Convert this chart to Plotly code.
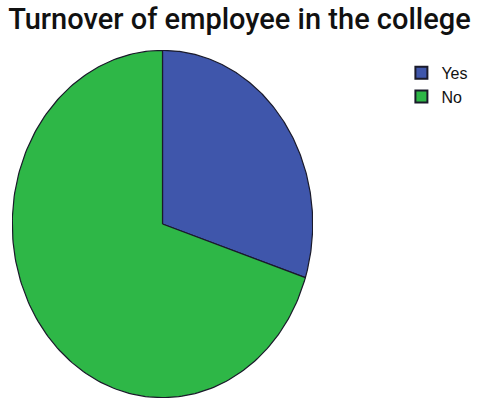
import numpy as np
import plotly.graph_objects as go

labels = ["Yes", "No"]
values = [30, 70]
colors = ["#3f56ab", "#2eb747"]
title_text = "Turnover of employee in the college"

fig = go.Figure()

total = float(sum(values))
start = 0.0
for lab, val, col in zip(labels, values, colors):
    a0 = start / total * 2 * np.pi
    a1 = (start + val) / total * 2 * np.pi
    th = np.linspace(a0, a1, 200)
    xs = np.concatenate([[0.0], np.sin(th), [0.0]])
    ys = np.concatenate([[0.0], np.cos(th), [0.0]])
    fig.add_trace(go.Scatter(
        x=xs, y=ys, mode="lines", fill="toself", fillcolor=col,
        line=dict(color="#1a1a2a", width=1.2), showlegend=False,
        hoverinfo="text", text=f"{lab}: {val}",
    ))
    start += val

for lab, col in zip(labels, colors):
    fig.add_trace(go.Scatter(
        x=[None], y=[None], mode="markers", name=lab,
        marker=dict(symbol="square", size=16, color=col,
                    line=dict(color="#1a1a2a", width=1)),
    ))

fig.update_layout(
    width=479, height=399,
    margin=dict(l=0, r=0, t=0, b=0),
    paper_bgcolor="white", plot_bgcolor="white",
    title=dict(text=title_text, x=0.5, xanchor="center", y=0.977, yanchor="top",
               font=dict(family="Roboto, Liberation Sans, Arial", size=29, weight=500, color="#111111")),
    xaxis=dict(domain=[0.025, 0.6535], range=[-1.002, 1.002], visible=False, fixedrange=True),
    yaxis=dict(domain=[0.0025, 0.8747], range=[-1.002, 1.002], visible=False, fixedrange=True),
    legend=dict(x=0.838, y=0.86, xanchor="left", yanchor="top",
                font=dict(family="Liberation Sans, Arial", size=16, color="#111111"),
                tracegroupgap=0, itemsizing="constant", bgcolor="rgba(0,0,0,0)"),
    showlegend=True,
)

fig.write_html("out.html")
